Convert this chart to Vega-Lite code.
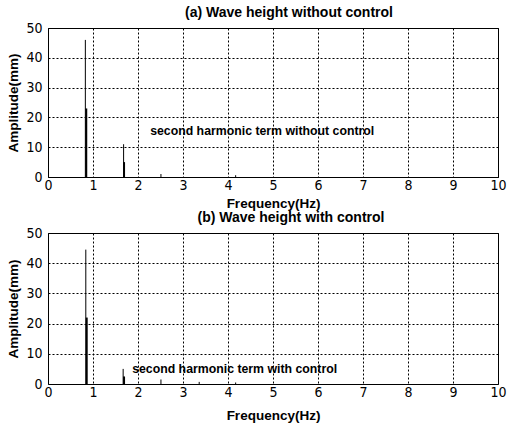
{
  "$schema": "https://vega.github.io/schema/vega-lite/v6.json",
  "background": "white",
  "padding": {"left": 6, "top": 5, "right": 2, "bottom": 2},
  "spacing": 0,
  "config": {
    "view": {"stroke": "black", "strokeWidth": 1},
    "font": "Liberation Sans",
    "axis": {
      "grid": true, "gridColor": "black", "gridOpacity": 1, "gridDash": [2, 2], "gridWidth": 1,
      "domain": false, "ticks": false, "labelOverlap": false, "labelFlush": false,
      "labelFont": "DejaVu Sans Condensed", "labelFontSize": 14, "labelColor": "black",
      "titleFont": "Liberation Sans", "titleFontSize": 13.5, "titleFontWeight": "bold", "titleColor": "black"
    },
    "axisX": {"labelPadding": 1, "titlePadding": 9},
    "axisY": {"labelPadding": 6, "titlePadding": 5},
    "title": {"font": "Liberation Sans", "fontSize": 14, "fontWeight": "bold", "color": "black", "offset": 1}
  },
  "datasets": {
    "a": [
      {"f": 0.83, "amp": 46, "w": "thin"},
      {"f": 0.85, "amp": 23, "w": "thick"},
      {"f": 1.68, "amp": 11, "w": "thin"},
      {"f": 1.69, "amp": 5, "w": "thick"},
      {"f": 2.51, "amp": 1, "w": "thin"},
      {"f": 4.17, "amp": 0.6, "w": "thin"}
    ],
    "b": [
      {"f": 0.84, "amp": 44.5, "w": "thin"},
      {"f": 0.86, "amp": 22, "w": "thick"},
      {"f": 1.67, "amp": 5, "w": "thin"},
      {"f": 1.69, "amp": 2.5, "w": "thick"},
      {"f": 2.51, "amp": 1.5, "w": "thin"},
      {"f": 3.36, "amp": 0.7, "w": "thin"},
      {"f": 4.17, "amp": 0.5, "w": "thin"}
    ],
    "la": [{"f": 2.27, "amp": 15.5, "t": "second harmonic term without control"}],
    "lb": [{"f": 1.87, "amp": 5, "t": "second harmonic term with control"}]
  },
  "vconcat": [
    {
      "width": 450, "height": 149,
      "title": {"text": "(a) Wave height without control", "dx": 16},
      "encoding": {
        "x": {"field": "f", "type": "quantitative", "scale": {"domain": [0, 10], "nice": false}, "axis": {"values": [0,1,2,3,4,5,6,7,8,9,10], "title": "Frequency(Hz)", "titlePadding": 4}},
        "y": {"field": "amp", "type": "quantitative", "scale": {"domain": [0, 50], "nice": false}, "axis": {"values": [0,10,20,30,40,50], "title": "Amplitude(mm)"}}
      },
      "layer": [
        {
          "data": {"name": "a"},
          "mark": {"type": "rule", "color": "black"},
          "encoding": {
            "y2": {"datum": 0},
            "strokeWidth": {"field": "w", "type": "nominal", "scale": {"domain": ["thin", "thick"], "range": [1, 2]}, "legend": null}
          }
        },
        {
          "data": {"name": "la"},
          "mark": {"type": "text", "align": "left", "baseline": "middle", "fontWeight": "bold", "fontSize": 12.3, "font": "Liberation Sans", "color": "black"},
          "encoding": {"text": {"field": "t"}}
        }
      ]
    },
    {
      "width": 450, "height": 151,
      "title": {"text": "(b) Wave height with control", "dx": 18},
      "encoding": {
        "x": {"field": "f", "type": "quantitative", "scale": {"domain": [0, 10], "nice": false}, "axis": {"values": [0,1,2,3,4,5,6,7,8,9,10], "title": "Frequency(Hz)"}},
        "y": {"field": "amp", "type": "quantitative", "scale": {"domain": [0, 50], "nice": false}, "axis": {"values": [0,10,20,30,40,50], "title": "Amplitude(mm)"}}
      },
      "layer": [
        {
          "data": {"name": "b"},
          "mark": {"type": "rule", "color": "black"},
          "encoding": {
            "y2": {"datum": 0},
            "strokeWidth": {"field": "w", "type": "nominal", "scale": {"domain": ["thin", "thick"], "range": [1, 2]}, "legend": null}
          }
        },
        {
          "data": {"name": "lb"},
          "mark": {"type": "text", "align": "left", "baseline": "middle", "fontWeight": "bold", "fontSize": 12.3, "font": "Liberation Sans", "color": "black"},
          "encoding": {"text": {"field": "t"}}
        }
      ]
    }
  ]
}
